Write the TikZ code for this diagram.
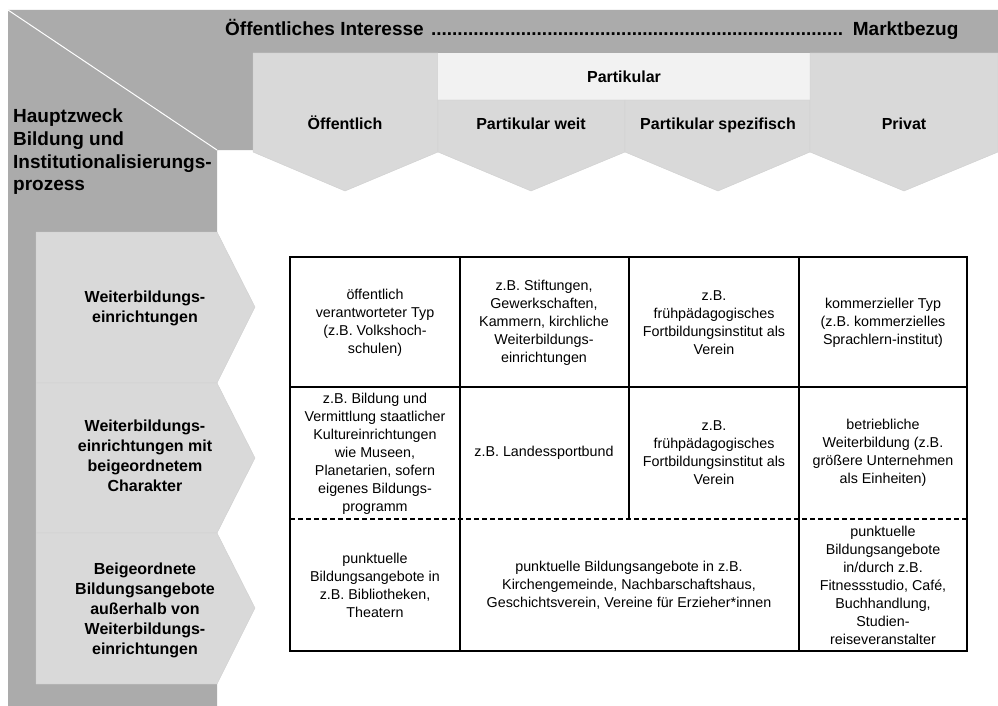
\documentclass[tikz,border=0pt]{standalone}
\usepackage{fontspec}
\setmainfont{Liberation Sans}
\definecolor{darkg}{HTML}{ABABAB}
\definecolor{lightg}{HTML}{D9D9D9}
\definecolor{paleg}{HTML}{F2F2F2}
\definecolor{edgeg}{HTML}{CFCFCF}
\begin{document}
\begin{tikzpicture}[x=1pt,y=-1pt,
  chev/.style={fill=lightg, draw=edgeg, line width=0.4pt},
  hdr/.style={font=\bfseries\fontsize{16}{18.4}\selectfont, align=center, inner sep=0pt, anchor=base},
  rowlbl/.style={font=\bfseries\fontsize{16}{20}\selectfont, align=center, inner sep=0pt},
  bigtxt/.style={font=\bfseries\fontsize{19}{22.7}\selectfont, inner sep=0pt},
  cell/.style={font=\fontsize{14.3}{18}\selectfont, align=center, inner sep=0pt},
  gridline/.style={line width=1.3pt, black}]
\useasboundingbox (0,0) rectangle (998,706);
\fill[white] (0,0) rectangle (998,706);
% dark background frame
\fill[darkg] (8,10) -- (998,10) -- (998,53) -- (253,53) -- (253,150) -- (217,150) -- (217,706) -- (8,706) -- cycle;
\draw[white, line width=1pt] (8,10) -- (217,150);
% header chevrons
\path[chev] (253,53) -- (438,53) -- (438,152) -- (345,191) -- (253,152) -- cycle;
\fill[paleg] (438,53) rectangle (810,100);
\path[chev] (438,100) -- (625,100) -- (625,152) -- (531,191) -- (438,152) -- cycle;
\path[chev] (625,100) -- (810,100) -- (810,152) -- (718,191) -- (625,152) -- cycle;
\path[chev] (810,53) -- (998,53) -- (998,152) -- (904,191) -- (810,152) -- cycle;
% row chevrons
\path[chev] (36,232) -- (217,232) -- (255,307) -- (217,383) -- (36,383) -- cycle;
\path[chev] (36,383) -- (217,383) -- (255,458) -- (217,533) -- (36,533) -- cycle;
\path[chev] (36,533) -- (217,533) -- (255,608) -- (217,684) -- (36,684) -- cycle;
% top title
\node[bigtxt, anchor=base west] (title) at (225,36)
  {\hbox to 733pt{Öffentliches Interesse \leaders\hbox{.}\hfill{} Marktbezug}};
\node[bigtxt, anchor=west, align=left] (haupt) at (13,152)
  {Hauptzweck\\Bildung und\\Institutionalisierungs-\\prozess};
% header labels
\node[hdr] (partikular) at (624,83) {Partikular};
\node[hdr] (oeff) at (345,129) {Öffentlich};
\node[hdr] (pweit) at (531,129) {Partikular weit};
\node[hdr] (pspez) at (718,129) {Partikular spezifisch};
\node[hdr] (privat) at (904,129) {Privat};
% row labels
\node[rowlbl] (r1) at (145,308) {Weiterbildungs-\\einrichtungen};
\node[rowlbl] (r2) at (145,456) {Weiterbildungs-\\einrichtungen mit\\beigeordnetem\\Charakter};
\node[rowlbl] (r3) at (145,610) {Beigeordnete\\Bildungsangebote\\außerhalb von\\Weiterbildungs-\\einrichtungen};
% grid
\draw[gridline] (290,257) rectangle (967,651);
\draw[gridline] (460,257) -- (460,651);
\draw[gridline] (629,257) -- (629,519);
\draw[gridline] (799,257) -- (799,651);
\draw[gridline] (290,387) -- (967,387);
\draw[gridline, dash pattern=on 5pt off 3pt] (290,519) -- (967,519);
% cells
\node[cell] (c11) at (375,323) {öffentlich\\verantworteter Typ\\(z.B. Volkshoch-\\schulen)};
\node[cell] (c12) at (544,323) {z.B. Stiftungen,\\Gewerkschaften,\\Kammern, kirchliche\\Weiterbildungs-\\einrichtungen};
\node[cell] (c13) at (714,323) {z.B.\\frühpädagogisches\\Fortbildungsinstitut als\\Verein};
\node[cell] (c14) at (883,323) {kommerzieller Typ\\(z.B. kommerzielles\\Sprachlern-institut)};
\node[cell] (c21) at (375,454) {z.B. Bildung und\\Vermittlung staatlicher\\Kultureinrichtungen\\wie Museen,\\Planetarien, sofern\\eigenes Bildungs-\\programm};
\node[cell] (c22) at (544,453) {z.B. Landessportbund};
\node[cell] (c23) at (714,453) {z.B.\\frühpädagogisches\\Fortbildungsinstitut als\\Verein};
\node[cell] (c24) at (883,453) {betriebliche\\Weiterbildung (z.B.\\größere Unternehmen\\als Einheiten)};
\node[cell] (c31) at (375,585) {punktuelle\\Bildungsangebote in\\z.B. Bibliotheken,\\Theatern};
\node[cell] (c32) at (629,585) {punktuelle Bildungsangebote in z.B.\\Kirchengemeinde, Nachbarschaftshaus,\\Geschichtsverein, Vereine für Erzieher*innen};
\node[cell] (c34) at (883,585) {punktuelle\\Bildungsangebote\\in/durch z.B.\\Fitnessstudio, Café,\\Buchhandlung,\\Studien-\\reiseveranstalter};
\end{tikzpicture}
\end{document}
